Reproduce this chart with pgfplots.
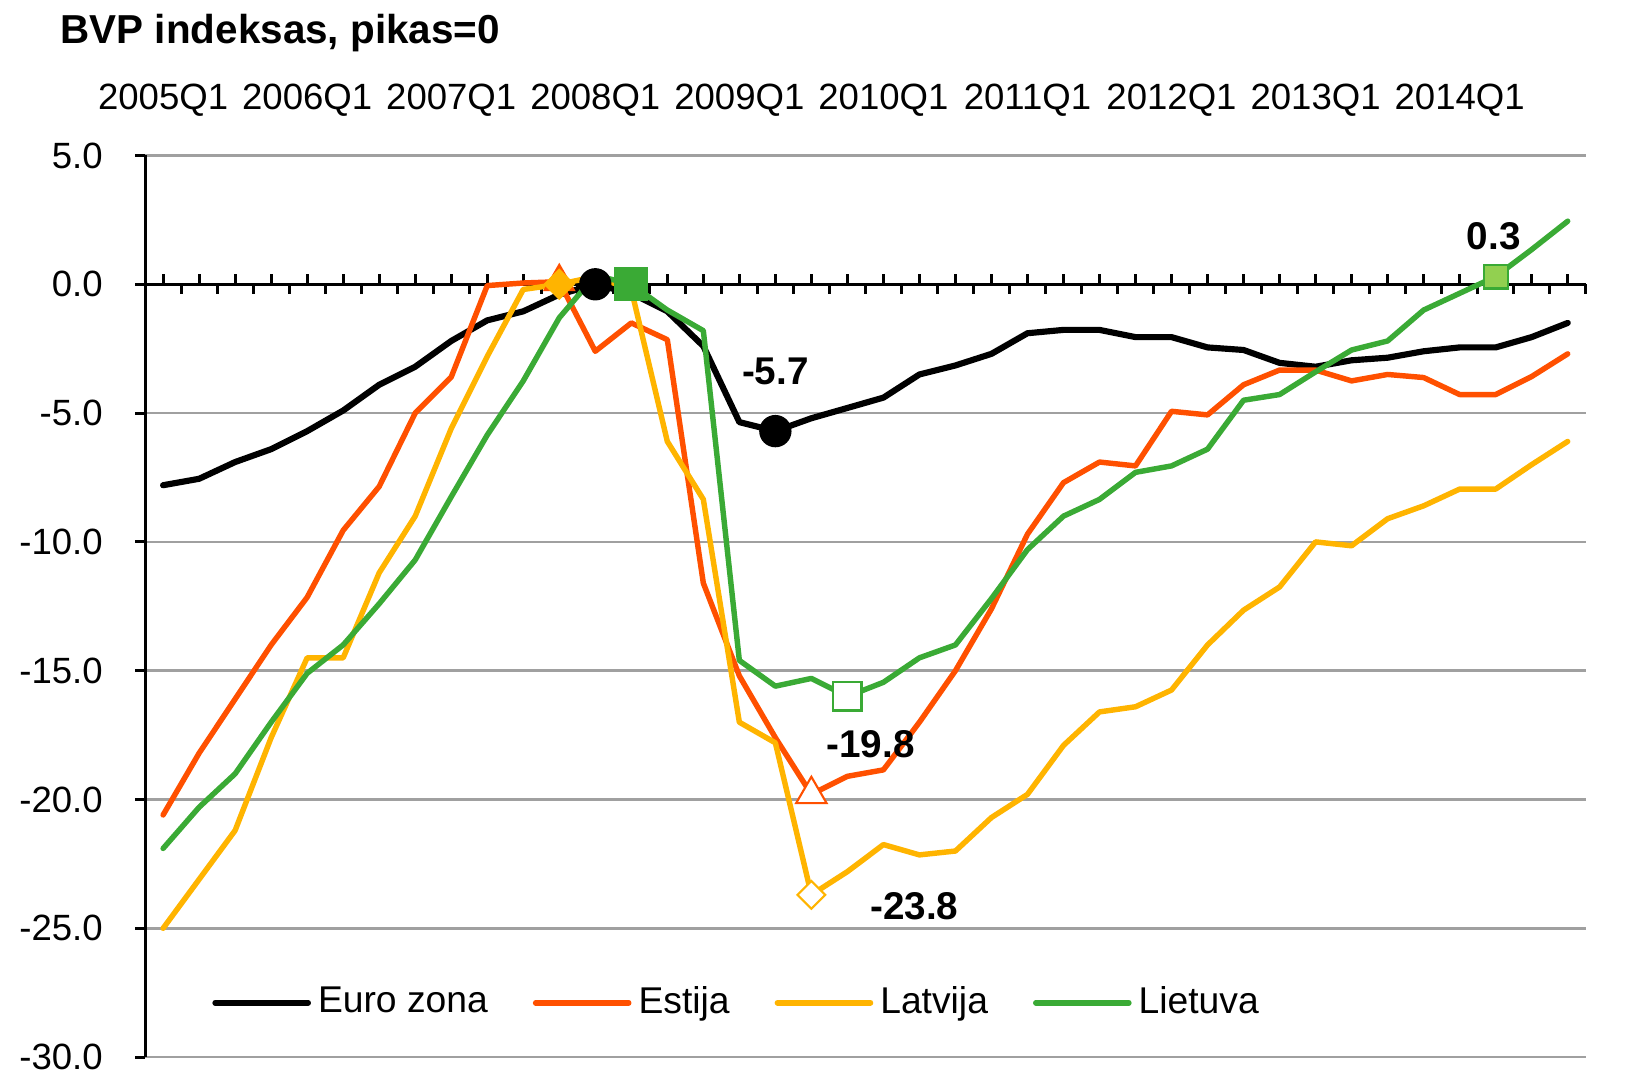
\documentclass[border=0pt]{standalone}
\usepackage{fontspec}
\setmainfont{Liberation Sans}
\usepackage{pgfplots}
\usepackage{pgfplotstable}
\pgfplotsset{compat=1.18}
\definecolor{est}{HTML}{FF5000}
\definecolor{lat}{HTML}{FFB400}
\definecolor{lie}{HTML}{3AAA35}
\definecolor{lgr}{HTML}{92D050}
\definecolor{gridc}{HTML}{A0A0A0}
\pgfplotstableread{
i euro est lat lie
0 -7.8 -20.6 -25.0 -21.9
1 -7.55 -18.2 -23.1 -20.3
2 -6.9 -16.1 -21.2 -19.0
3 -6.4 -14.0 -17.6 -17.0
4 -5.7 -12.15 -14.5 -15.1
5 -4.9 -9.55 -14.5 -14.0
6 -3.9 -7.85 -11.2 -12.4
7 -3.2 -5.0 -9.0 -10.7
8 -2.2 -3.6 -5.6 -8.25
9 -1.4 -0.05 -2.8 -5.85
10 -1.05 0.05 -0.2 -3.75
11 -0.4 0.1 0.0 -1.3
12 0.0 -2.6 0.3 0.35
13 -0.35 -1.5 -0.2 0.0
14 -1.05 -2.15 -6.1 -1.0
15 -2.4 -11.6 -8.35 -1.8
16 -5.35 -15.2 -17.0 -14.6
17 -5.7 -17.6 -17.8 -15.6
18 -5.2 -19.8 -23.7 -15.3
19 -4.8 -19.1 -22.8 -16.0
20 -4.4 -18.85 -21.75 -15.45
21 -3.5 -17.0 -22.15 -14.5
22 -3.15 -15.0 -22.0 -14.0
23 -2.7 -12.6 -20.7 -12.2
24 -1.9 -9.7 -19.8 -10.3
25 -1.77 -7.7 -17.9 -9.0
26 -1.77 -6.9 -16.6 -8.35
27 -2.05 -7.05 -16.4 -7.3
28 -2.05 -4.93 -15.75 -7.05
29 -2.45 -5.07 -14.0 -6.4
30 -2.55 -3.9 -12.65 -4.5
31 -3.05 -3.33 -11.75 -4.28
32 -3.2 -3.33 -10.0 -3.4
33 -2.95 -3.75 -10.15 -2.55
34 -2.85 -3.5 -9.1 -2.2
35 -2.6 -3.62 -8.6 -1.0
36 -2.45 -4.28 -7.95 -0.35
37 -2.45 -4.28 -7.95 0.3
38 -2.05 -3.58 -7.0 1.35
39 -1.5 -2.7 -6.1 2.45
}\gdpdata
\begin{document}
\begin{tikzpicture}
\begin{axis}[
  scale only axis, width=14.406cm, height=9.016cm,
  xmin=-0.5, xmax=39.5, ymin=-30, ymax=5,
  clip=false,
  axis y line*=left, axis x line*=top,
  x axis line style={draw=none},
  y axis line style={black, line width=0.85pt},
  xtick={0,4,...,36},
  xticklabels={2005Q1,2006Q1,2007Q1,2008Q1,2009Q1,2010Q1,2011Q1,2012Q1,2013Q1,2014Q1},
  xtick style={draw=none},
  xticklabel style={anchor=base, yshift=0.36cm, font=\fontsize{10.4}{12}\selectfont},
  ytick={-30,-25,...,5},
  ytick style={black, line width=0.85pt},
  tick align=outside, major tick length=0.1cm,
  yticklabel style={xshift=-0.2cm, font=\fontsize{10.4}{12}\selectfont, /pgf/number format/.cd, fixed, fixed zerofill, precision=1, assume math mode=true},
  ymajorgrids, major grid style={gridc, line width=0.7pt},
  legend columns=4,
  legend cell align=left,
  legend style={draw=none, fill=none, inner sep=0pt, at={(0.0462,0.0603)}, anchor=west, font=\fontsize{10.6}{12}\selectfont, /tikz/every even column/.append style={column sep=0.38cm}},
  legend image code/.code={\draw[#1, line width=1.6pt, line cap=round] (0cm,0cm) -- (0.93cm,0cm);},
]
% zero axis line with ticks
\draw[black, line width=0.9pt] (axis cs:-0.5,0) -- (axis cs:39.5,0);
\pgfplotsinvokeforeach{0,...,39}{
  \draw[black, line width=0.85pt] (axis cs:#1,0) -- ([yshift=0.1cm]axis cs:#1,0);
}
\pgfplotsinvokeforeach{-0.5,0.5,...,39.5}{
  \draw[black, line width=0.85pt] (axis cs:#1,0) -- ([yshift=-0.1cm]axis cs:#1,0);
}

\addplot[black, line width=1.75pt, mark=none, line join=round, line cap=round] table[x=i, y=euro] {\gdpdata};
\addlegendentry{Euro zona}
\addplot[only marks, mark=*, mark size=4.4pt, black, forget plot] coordinates {(12,0) (17,-5.7)};

\addplot[est, line width=1.55pt, mark=none, line join=round, line cap=round] table[x=i, y=est] {\gdpdata};
\addlegendentry{Estija}
\addplot[only marks, mark=triangle*, mark size=5pt, est, forget plot] coordinates {(11,0.1)};
\addplot[only marks, mark=triangle*, mark size=5pt, mark options={draw=est, fill=white, line width=0.6pt}, forget plot] coordinates {(18,-19.8)};

\addplot[lat, line width=1.55pt, mark=none, line join=round, line cap=round] table[x=i, y=lat] {\gdpdata};
\addlegendentry{Latvija}
\addplot[only marks, mark=square*, mark size=3pt, mark options={rotate=45, draw=lat, fill=lat}, forget plot] coordinates {(11,0)};
\addplot[only marks, mark=square*, mark size=2.8pt, mark options={rotate=45, draw=lat, fill=white, line width=0.6pt}, forget plot] coordinates {(18,-23.7)};

\addplot[lie, line width=1.55pt, mark=none, line join=round, line cap=round] table[x=i, y=lie] {\gdpdata};
\addlegendentry{Lietuva}
\addplot[only marks, mark=square*, mark size=4.6pt, mark options={draw=lie, fill=lie}, forget plot] coordinates {(13,0)};
\addplot[only marks, mark=square*, mark size=4pt, mark options={draw=lie, fill=white, line width=0.6pt}, forget plot] coordinates {(19,-16.0)};
\addplot[only marks, mark=square*, mark size=3.4pt, mark options={draw=lie, fill=lgr, line width=0.6pt}, forget plot] coordinates {(37,0.3)};

% annotations
\node[inner sep=0pt, font=\fontsize{11}{13}\selectfont\bfseries] at (axis cs:17,-3.38) {-5.7};
\node[inner sep=0pt, font=\fontsize{11}{13}\selectfont\bfseries] at (axis cs:19.64,-17.84) {-19.8};
\node[inner sep=0pt, font=\fontsize{11}{13}\selectfont\bfseries] at (axis cs:20.86,-24.16) {-23.8};
\node[inner sep=0pt, font=\fontsize{11}{13}\selectfont\bfseries] at (axis cs:36.95,1.87) {0.3};
% title
\node[anchor=base west, inner sep=0pt, font=\fontsize{11.5}{13}\selectfont\bfseries] at ([xshift=-0.851cm, yshift=1.122cm]rel axis cs:0,1) {BVP indeksas, pikas=0};
\end{axis}
\pgfresetboundingbox
\path[use as bounding box] (-1.451cm,-0.189cm) rectangle (14.799cm,10.571cm);
\end{tikzpicture}
\end{document}
